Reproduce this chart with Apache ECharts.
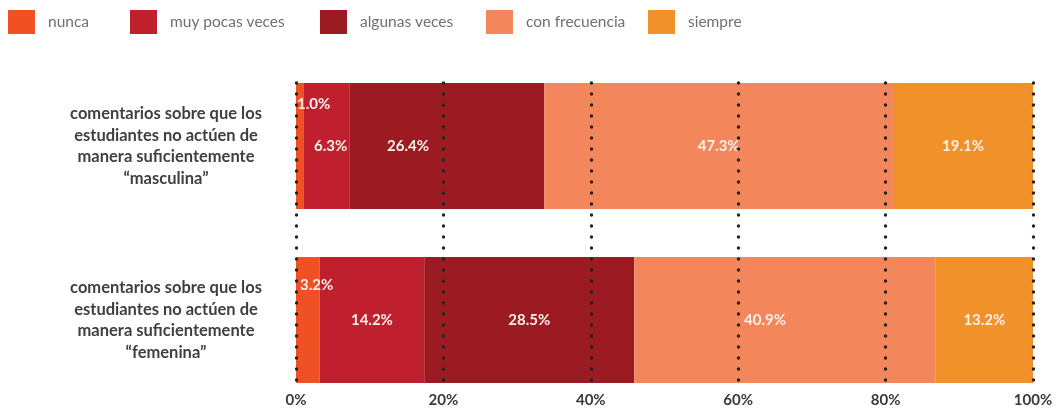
<!DOCTYPE html>
<html>
<head>
<meta charset="utf-8">
<script src="https://cdn.jsdelivr.net/npm/echarts@6/dist/echarts.min.js"></script>
<style>
  html, body { margin: 0; padding: 0; background: #fff; }
  #chart { width: 1056px; height: 415px; }
</style>
</head>
<body>
<div id="chart"></div>
<script>
// categorías (de arriba a abajo)
const categories = [
  'comentarios sobre que los\nestudiantes no actúen de\nmanera suficientemente\n“masculina”',
  'comentarios sobre que los\nestudiantes no actúen de\nmanera suficientemente\n“femenina”'
]
const seriesNames = ['nunca', 'muy pocas veces', 'algunas veces', 'con frecuencia', 'siempre']
// valores en % por categoría
const nunca = [1.0, 3.2]
const muyPocas = [6.3, 14.2]
const algunas = [26.4, 28.5]
const conFrecuencia = [47.3, 40.9]
const siempre = [19.1, 13.2]
const xTicks = [0, 20, 40, 60, 80, 100]

const values = [nunca, muyPocas, algunas, conFrecuencia, siempre]
const colors = ['#ef5124', '#c01f2e', '#9c1a21', '#f3865b', '#f0912a']
// posición de leyendas (x del icono)
const legendLeft = [8, 130, 320, 486, 648]

// ajustes de etiquetas (algunas no están centradas en el original)
function labelFor(si, ci) {
  if (si === 0) {
    return { position: [ci === 0 ? 1 : 4, ci === 0 ? 21 : 28], align: 'left', verticalAlign: 'middle' }
  }
  if (si === 2 && ci === 0) return { offset: [-39, 0] }
  if (si === 3 && ci === 1) return { offset: [-20, 0] }
  if (si === 1 && ci === 0) return { offset: [4, 0] }
  return {}
}

const myChart = echarts.init(document.getElementById('chart'))

const option = {
  animation: false,
  textStyle: { fontFamily: 'Lato' },
  legend: seriesNames.map((n, i) => ({
    data: [n],
    left: legendLeft[i],
    top: 10,
    padding: 0,
    icon: 'rect',
    itemWidth: 27,
    itemHeight: 24,
    selectedMode: false,
    textStyle: { color: '#707070', fontSize: 15.5, fontFamily: 'Lato', padding: [3, 0, 0, 8] }
  })),
  grid: [
    // barras
    { left: 296, right: 23, top: 59, bottom: 8 },
    // líneas punteadas y etiquetas del eje x
    { left: 296, right: 23, top: 83, bottom: 31 }
  ],
  xAxis: [
    { type: 'value', gridIndex: 0, min: 0, max: 100, show: false },
    {
      type: 'value',
      gridIndex: 1,
      min: xTicks[0],
      max: xTicks[xTicks.length - 1],
      interval: 20,
      z: 10,
      axisLine: { show: false },
      axisTick: { show: false },
      axisLabel: {
        margin: 9,
        color: '#3a3a3a',
        fontSize: 15,
        fontWeight: 'bold',
        fontFamily: 'Lato',
        formatter: '{value}%'
      },
      splitLine: {
        show: true,
        lineStyle: { color: '#222', width: 3.4, type: [0.1, 10.9], cap: 'round' }
      }
    }
  ],
  yAxis: [
    {
      type: 'category',
      gridIndex: 0,
      inverse: true,
      data: categories,
      axisLine: { show: false },
      axisTick: { show: false },
      axisLabel: {
        margin: 130,
        align: 'center',
        color: '#3f3f3f',
        fontSize: 16.5,
        lineHeight: 21.5,
        fontWeight: 'bold',
        fontFamily: 'Lato'
      }
    },
    { type: 'value', gridIndex: 1, show: false }
  ],
  series: seriesNames.map((n, si) => ({
    name: n,
    type: 'bar',
    stack: 'total',
    xAxisIndex: 0,
    yAxisIndex: 0,
    barWidth: 126,
    itemStyle: { color: colors[si] },
    label: {
      show: true,
      color: '#fbf0ec',
      fontSize: 15,
      fontWeight: 'bold',
      fontFamily: 'Lato',
      formatter: p => p.value.toFixed(1) + '%'
    },
    data: values[si].map((v, ci) => ({ value: v, label: labelFor(si, ci) }))
  }))
}

myChart.setOption(option)
</script>
</body>
</html>
